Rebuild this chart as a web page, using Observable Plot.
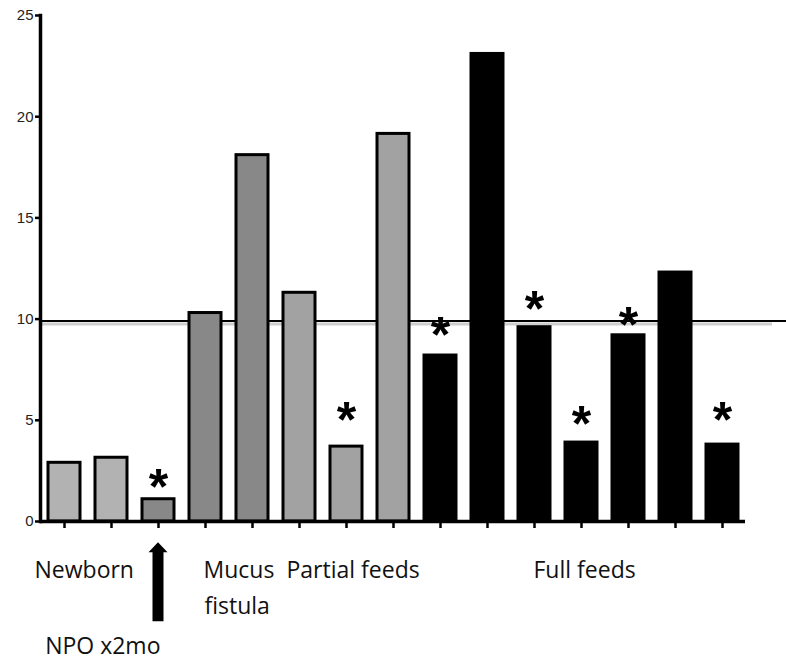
<!DOCTYPE html>
<html>
<head>
<meta charset="utf-8">
<script src="https://cdn.jsdelivr.net/npm/d3@7"></script>
<script src="https://cdn.jsdelivr.net/npm/@observablehq/plot@0.6"></script>
<style>
  html, body { margin: 0; padding: 0; background: #fff; }
  #chart svg { display: block; }
</style>
</head>
<body>
<div id="chart"></div>
<script>
// ---- data ----
const bars = ["1","2","3","4","5","6","7","8","9","10","11","12","13","14","15"];
const values = [2.9, 3.15, 1.1, 10.3, 18.1, 11.3, 3.7, 19.15, 8.2, 23.1, 9.6, 3.9, 9.2, 12.3, 3.8];
const phases = ["Newborn","Newborn","NPO","Mucus fistula","Mucus fistula",
  "Partial feeds","Partial feeds","Partial feeds",
  "Full feeds","Full feeds","Full feeds","Full feeds","Full feeds","Full feeds","Full feeds"];
const phaseNames = ["Newborn","NPO","Mucus fistula","Partial feeds","Full feeds"];
const phaseColors = ["#b2b2b2","#888888","#888888","#a2a2a2","#000000"];
const starBars = ["3","7","9","11","12","13","15"];
const starValues = [2.0, 5.3, 9.5, 10.8, 5.1, 10.0, 5.3];
const yTicks = [0, 5, 10, 15, 20, 25];
const refValue = 9.9;
const arrowBar = "3";
const arrowTip = -1.05, arrowHeadBase = -1.55, arrowTail = -4.95;

const data = bars.map((b, i) => ({bar: b, value: values[i], phase: phases[i]}));
const stars = starBars.map((b, i) => ({bar: b, y: starValues[i]}));

const labelFont = "'Open Sans', sans-serif";
const labelSize = 23;

// custom arrow mark drawn through the scales
function arrowMark(index, scales) {
  const sx = scales.x;
  const bw = typeof sx.bandwidth === "function" ? sx.bandwidth() : (sx.bandwidth || 0);
  const x = sx(arrowBar) + bw / 2;
  const yt = scales.y(arrowTip), yb = scales.y(arrowHeadBase), yl = scales.y(arrowTail);
  const g = d3.create("svg:g");
  g.append("path")
    .attr("d", `M${x},${yt}L${x + 9.5},${yb}L${x + 5.5},${yb}L${x + 5.5},${yl}L${x - 5.5},${yl}L${x - 5.5},${yb}L${x - 9.5},${yb}Z`)
    .attr("fill", "#000");
  return g.node();
}

const chart = Plot.plot({
  width: 786,
  height: 659,
  marginLeft: 40,
  marginRight: 41,
  marginTop: 15,
  marginBottom: 138,
  style: {background: "#fff", fontFamily: "'Liberation Sans', Arial, sans-serif"},
  x: {domain: bars, paddingInner: 0.32, paddingOuter: 0.16, axis: null},
  y: {domain: [0, 25], axis: null},
  color: {domain: phaseNames, range: phaseColors},
  marks: [
    Plot.ruleY([refValue], {stroke: "#cfcfcf", strokeWidth: 3, dy: 3, insetRight: -27}),
    Plot.ruleY([refValue], {stroke: "#000", strokeWidth: 2, insetRight: -41}),
    Plot.barY(data, {x: "bar", y: "value", fill: "phase", stroke: "#000", strokeWidth: 3}),
    Plot.text(stars, {x: "bar", y: "y", text: () => "*", fontSize: 50, fontWeight: "bold", dy: 7,
      fontFamily: "'Liberation Sans', Arial, sans-serif", fill: "#000"}),
    Plot.axisX({tickSize: 7, tickFormat: null, strokeWidth: 2.5, tickPadding: 0, label: null, text: null}),
    Plot.ruleY([0], {stroke: "#000", strokeWidth: 3.5}),
    Plot.axisY({ticks: yTicks, tickSize: 5, tickPadding: 2, strokeWidth: 2.5, fontSize: 15, label: null, fill: "#222"}),
    Plot.frame({anchor: "left", stroke: "#000", strokeWidth: 3.5}),
    // group labels below the axis
    Plot.text(["Newborn"], {x: () => "1", frameAnchor: "bottom", lineAnchor: "bottom", textAnchor: "start", dx: -30, dy: 56, fontSize: labelSize, fontFamily: labelFont, fill: "#111"}),
    Plot.text(["Mucus"], {x: () => "4", frameAnchor: "bottom", lineAnchor: "bottom", textAnchor: "start", dx: -2, dy: 56, fontSize: labelSize, fontFamily: labelFont, fill: "#111"}),
    Plot.text(["fistula"], {x: () => "4", frameAnchor: "bottom", lineAnchor: "bottom", textAnchor: "start", dx: -1, dy: 92, fontSize: labelSize, fontFamily: labelFont, fill: "#111"}),
    Plot.text(["Partial feeds"], {x: () => "6", frameAnchor: "bottom", lineAnchor: "bottom", textAnchor: "start", dx: -13, dy: 56, fontSize: labelSize, fontFamily: labelFont, fill: "#111"}),
    Plot.text(["Full feeds"], {x: () => "11", frameAnchor: "bottom", lineAnchor: "bottom", textAnchor: "start", dx: -1, dy: 56, fontSize: labelSize, fontFamily: labelFont, fill: "#111"}),
    Plot.text(["NPO x2mo"], {x: () => "3", frameAnchor: "bottom", lineAnchor: "bottom", textAnchor: "end", dx: 2, dy: 132, fontSize: labelSize, fontFamily: labelFont, fill: "#111"}),
    arrowMark
  ]
});

document.getElementById("chart").append(chart);
</script>
</body>
</html>
